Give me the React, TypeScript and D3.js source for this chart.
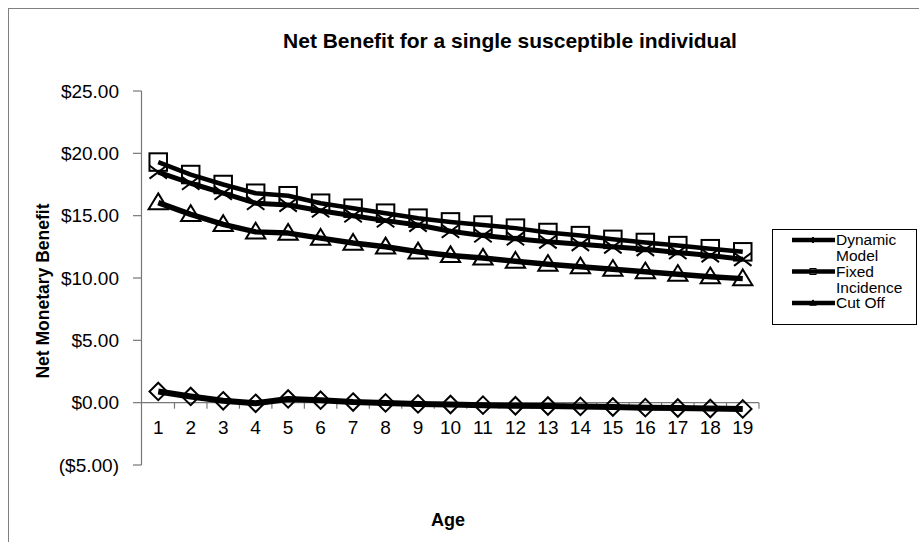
import React from "react";
import * as d3 from "d3";

// Ages on the category axis
const ages: number[] = Array.from({ length: 19 }, (_, i) => i + 1);

// Net monetary benefit per age, one array per series
const dynamicModel: number[] = [0.9, 0.5, 0.15, -0.05, 0.3, 0.2, 0.05, -0.02, -0.1, -0.15, -0.2, -0.25, -0.27, -0.3, -0.35, -0.4, -0.43, -0.47, -0.5];
const fixedIncidence: number[] = [19.3, 18.3, 17.5, 16.8, 16.6, 16.0, 15.6, 15.2, 14.8, 14.5, 14.25, 14.0, 13.65, 13.4, 13.1, 12.85, 12.6, 12.35, 12.1];
const cutOff: number[] = [16.05, 15.1, 14.3, 13.7, 13.6, 13.2, 12.8, 12.5, 12.1, 11.8, 11.6, 11.35, 11.1, 10.9, 10.7, 10.5, 10.3, 10.1, 9.95];
const crossSeries: number[] = [18.5, 17.6, 16.8, 16.0, 15.85, 15.4, 15.0, 14.6, 14.25, 13.75, 13.4, 13.15, 12.9, 12.7, 12.5, 12.3, 12.05, 11.8, 11.5];

const yTicks: number[] = [-5, 0, 5, 10, 15, 20, 25];

const legendEntries: { lines: string[]; marker: string }[] = [
  { lines: ["Dynamic", "Model"], marker: "diamond" },
  { lines: ["Fixed", "Incidence"], marker: "square" },
  { lines: ["Cut Off"], marker: "triangle" },
];

const FONT = "Arial, 'Liberation Sans', Helvetica, sans-serif";

function fmtMoney(v: number): string {
  const s = "$" + Math.abs(v).toFixed(2);
  return v < 0 ? `(${s})` : s;
}

function Marker({ type, x, y, size, sw = 2 }: { type: string; x: number; y: number; size: number; sw?: number }) {
  const h = size / 2;
  const common = { fill: "none", stroke: "#000", strokeWidth: sw };
  if (type === "square") return <rect x={x - h} y={y - h} width={size} height={size} {...common} />;
  if (type === "diamond")
    return <path d={`M${x},${y - h}L${x + h},${y}L${x},${y + h}L${x - h},${y}Z`} {...common} />;
  if (type === "triangle")
    return <path d={`M${x},${y - h * 1.05}L${x + h * 1.1},${y + h * 0.75}L${x - h * 1.1},${y + h * 0.75}Z`} {...common} />;
  // cross
  return (
    <path d={`M${x - h},${y - h * 0.75}L${x + h},${y + h * 0.75}M${x + h},${y - h * 0.75}L${x - h},${y + h * 0.75}`} {...common} />
  );
}

export default function App() {
  const width = 919;
  const height = 542;
  const x = d3.scaleBand<number>().domain(ages).range([142, 759]).padding(0);
  const y = d3.scaleLinear().domain([-5, 25]).range([465, 91]);
  const cx = (a: number) => (x(a) as number) + x.bandwidth() / 2;

  const line = d3
    .line<number>()
    .x((_, i) => cx(ages[i]))
    .y((v) => y(v));

  const series = [
    { values: dynamicModel, marker: "diamond", width: 6 },
    { values: fixedIncidence, marker: "square", width: 4.5 },
    { values: cutOff, marker: "triangle", width: 5.5 },
    { values: crossSeries, marker: "cross", width: 5 },
  ];

  const y0 = y(0);
  const boundaries = d3.range(ages.length + 1).map((k) => 142 + k * x.bandwidth());

  return (
    <svg
      width={width}
      height={height}
      style={{ position: "absolute", left: 0, top: 0, display: "block", background: "#fff" }}
      fontFamily={FONT}
    >
      <rect x={8.5} y={8.5} width={1000} height={600} fill="#fff" stroke="#808080" strokeWidth={1} />

      <text x={510} y={48} textAnchor="middle" fontSize={21} fontWeight="bold" fill="#000">
        Net Benefit for a single susceptible individual
      </text>

      {/* value axis */}
      <line x1={141.5} x2={141.5} y1={y(25)} y2={y(-5)} stroke="#777" strokeWidth={1.2} />
      {yTicks.map((t) => (
        <g key={t}>
          <line x1={133} x2={141.5} y1={y(t)} y2={y(t)} stroke="#777" strokeWidth={1.2} />
          <text x={119} y={y(t)} dy="0.35em" textAnchor="end" fontSize={19} fill="#000">
            {fmtMoney(t)}
          </text>
        </g>
      ))}

      {/* category axis at zero */}
      <line x1={141.5} x2={759} y1={y0} y2={y0} stroke="#777" strokeWidth={1.2} />
      {boundaries.slice(1).map((bx, i) => (
        <line key={i} x1={bx} x2={bx} y1={y0} y2={y0 + 6} stroke="#777" strokeWidth={1.2} />
      ))}
      {ages.map((a) => (
        <text key={a} x={cx(a)} y={y0 + 25} dy="0.35em" textAnchor="middle" fontSize={19} fill="#000">
          {a}
        </text>
      ))}

      <text
        transform={`translate(43,291) rotate(-90)`}
        textAnchor="middle"
        dy="0.35em"
        fontSize={17.5}
        fontWeight="bold"
        fill="#000"
      >
        Net Monetary Benefit
      </text>
      <text x={448} y={520} dy="0.35em" textAnchor="middle" fontSize={18} fontWeight="bold" fill="#000">
        Age
      </text>

      {series.map((s, si) => (
        <g key={si}>
          <path d={line(s.values) ?? ""} fill="none" stroke="#000" strokeWidth={s.width} strokeLinejoin="round" />
          {s.values.map((v, i) => (
            <Marker key={i} type={s.marker} x={cx(ages[i])} y={y(v)} size={17.5} />
          ))}
        </g>
      ))}

      {/* legend */}
      <rect x={772.5} y={229.5} width={144} height={95} fill="#fff" stroke="#000" strokeWidth={1} />
      {legendEntries.map((e, i) => {
        const ly = 240 + i * 31.5;
        return (
          <g key={i}>
            <line x1={792} x2={835} y1={ly} y2={ly} stroke="#000" strokeWidth={4.5} />
            <Marker type={e.marker} x={813} y={ly} size={6} sw={1} />
            {e.lines.map((t, j) => (
              <text key={j} x={836} y={ly + j * 16} dy="0.35em" fontSize={15.5} fill="#000">
                {t}
              </text>
            ))}
          </g>
        );
      })}
    </svg>
  );
}
